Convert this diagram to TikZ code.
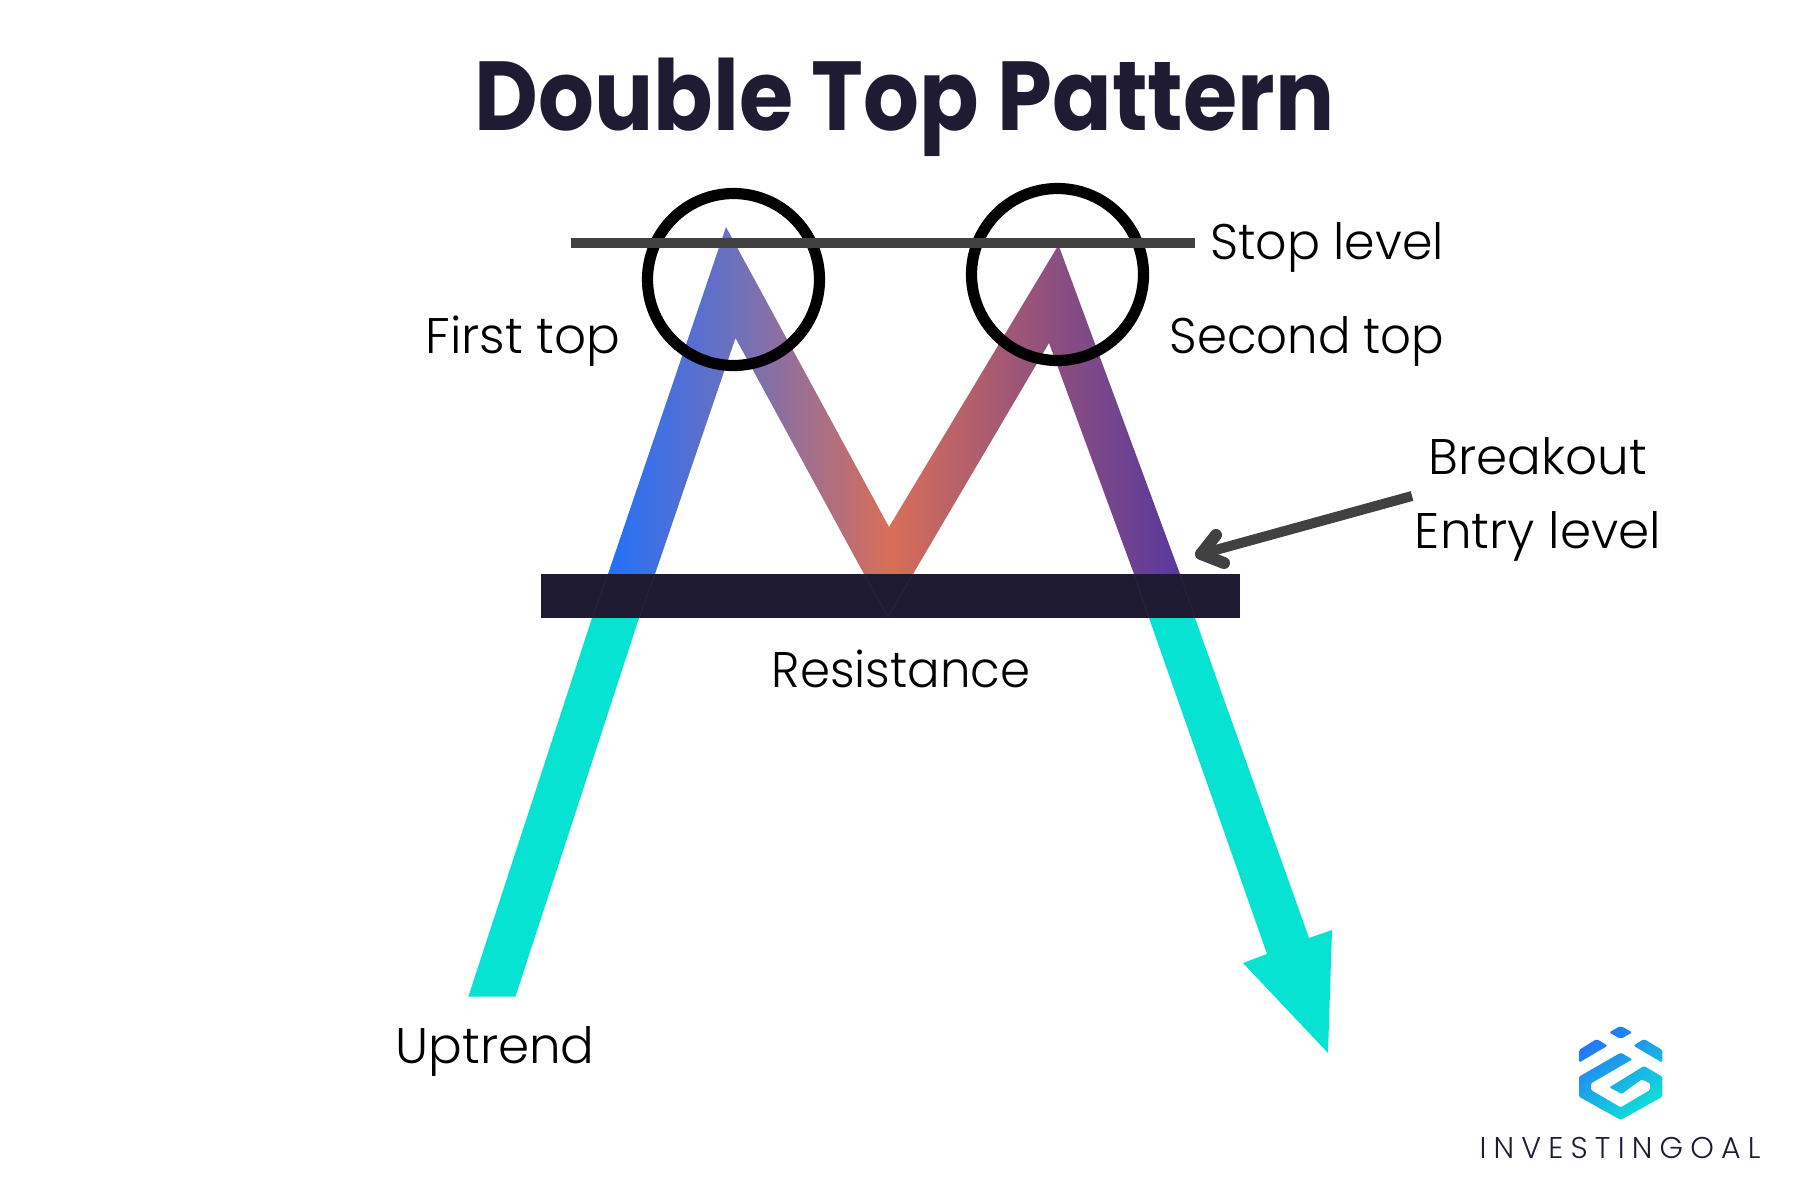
\documentclass[tikz,border=0pt]{standalone}
\usepackage{fontspec}
\setmainfont{Poppins Light}
\newfontfamily\titlefont[FakeStretch=0.896]{Poppins Bold}
\newfontfamily\brandfont[LetterSpace=24]{Poppins Light}
\definecolor{ink}{HTML}{1F1B33}
\definecolor{aqua}{HTML}{07E3D3}
\definecolor{slate}{HTML}{414141}
\definecolor{seam}{HTML}{2B2740}
\definecolor{logoa}{HTML}{2470F8}
\definecolor{logob}{HTML}{0FE6D6}
\pgfdeclarehorizontalshading{mgrad}{100bp}{
 rgb(0bp)=(0.14,0.44,0.98);
 rgb(25bp)=(0.14,0.44,0.98);
 rgb(35.7bp)=(0.42,0.44,0.75);
 rgb(49.6bp)=(0.85,0.43,0.35);
 rgb(64bp)=(0.55,0.31,0.50);
 rgb(75bp)=(0.35,0.22,0.62);
 rgb(100bp)=(0.35,0.22,0.62)}
\tikzset{
 lbl/.style={font=\fontsize{25}{30}\selectfont,text=black,inner sep=0pt,anchor=base},
 ring/.style={draw=black,line width=5.6pt},
 cyanpart/.style={fill=aqua,draw=none},
 seamline/.style={draw=seam,line width=.3pt}
}
\begin{document}
\begin{tikzpicture}[x=.5pt,y=-.5pt]
\useasboundingbox (0,0) rectangle (1800,1200);
\fill[white] (0,0) rectangle (1800,1200);
\node[font=\titlefont\fontsize{49}{58}\selectfont,text=ink,inner sep=0pt,anchor=base] (title) at (904.5,130) {Double Top Pattern};
% cyan parts
\path[cyanpart] (592,618) -- (639,618) -- (515.5,996.5) -- (468.4,996.5) -- cycle;
\path[cyanpart] (1149,618) -- (1195,618) -- (1309,938) -- (1332,930) -- (1328,1053) -- (1243,963) -- (1267,954) -- cycle;
% gradient M
\path[shading=mgrad] (608,574) -- (726,227) -- (889,527) -- (1058.5,245) -- (1180,574) -- (1134,574) -- (1049,343) -- (913,574) -- (864,574) -- (735.5,338) -- (655,574) -- cycle;
% resistance bar
\fill[ink] (540.7,574) rectangle (1239.5,618);
\draw[seamline] (608,574) -- (592,618) (655,574) -- (639,618) (864,574) -- (888,617) -- (913,574) (1134,574) -- (1149,618) (1180,574) -- (1195,618);
% circles and stop level
\node[ring,circle,minimum size=86pt,inner sep=0pt] (c1) at (733.5,279.5) {};
\node[ring,circle,minimum size=86pt,inner sep=0pt] (c2) at (1057.5,274.5) {};
\coordinate (s1) at (571,242.7);
\coordinate (s2) at (1195,242.7);
\draw[slate,line width=5pt] (s1) -- (s2);
% breakout arrow
\coordinate (a1) at (1412,496);
\coordinate (a2) at (1201,554);
\draw[slate,line width=5pt] (a1) -- (a2);
\draw[slate,line width=6pt,line cap=round,line join=round] (1216,535) -- (a2) -- (1224,563);
% labels
\node[lbl] (stop) at (1327,259) {\scalebox{.98}[1]{Stop level}};
\node[lbl] (first) at (523,353) {First top};
\node[lbl] (second) at (1307,353) {\scalebox{.963}[1]{Second top}};
\node[lbl] (break) at (1538,474) {Breakout};
\node[lbl] (entry) at (1538,548) {Entry level};
\node[lbl] (resist) at (901,687) {\scalebox{.965}[1]{Resistance}};
\node[lbl] (up) at (495,1063) {Uptrend};
% logo
\begin{scope}[shift={(1440,1000)},x=.16667pt,y=-.16667pt]
\begin{scope}
\clip[rounded corners=.8pt]
 (507,97) -- (542,78) -- (577,97) -- (542,117) -- cycle
 (417,188) -- (417,150) -- (470,117) -- (503,137) -- cycle
 (580,137) -- (612,117) -- (667,150) -- (667,188) -- cycle;
\shade[left color=logoa,right color=logob,shading angle=35] (400,70) rectangle (690,370);
\end{scope}
\begin{scope}
\clip[rounded corners=.6pt] (612,198) -- (667,230) -- (667,290) -- (542,360) -- (417,290) -- (417,230) -- (542,158) -- (577,178) -- (453,250) -- (453,270) -- (542,322) -- (630,270) -- (630,250) -- (605,238) -- (545,282) -- (508,262) -- cycle;
\shade[left color=logoa,right color=logob,shading angle=35] (400,70) rectangle (690,370);
\end{scope}
\end{scope}
\node[font=\brandfont\fontsize{15}{18}\selectfont,text=ink,inner sep=0pt,anchor=base] (brand) at (1620,1158) {INVESTINGOAL};
\end{tikzpicture}
\end{document}
